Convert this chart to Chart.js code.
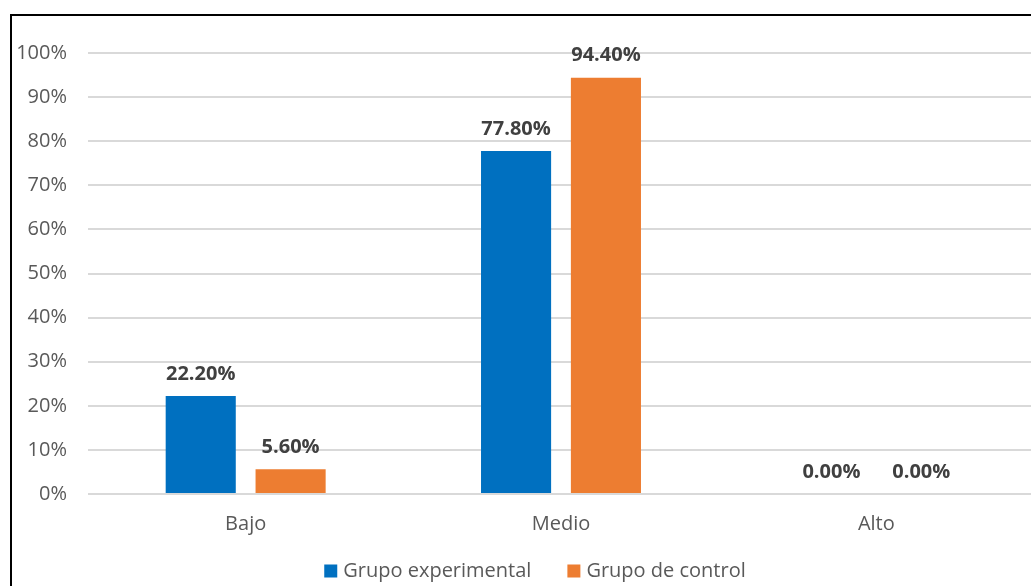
<!DOCTYPE html>
<html>
<head>
<meta charset="utf-8">
<script src="https://cdn.jsdelivr.net/npm/chart.js@4"></script>
<style>
  html, body { margin: 0; padding: 0; background: #fff; overflow: hidden; }
  #frame { position: absolute; left: 10px; top: 14px; width: 1100px; height: 700px; border: 2px solid #000; }
  #wrap { position: absolute; left: 0; top: 0; width: 1034px; height: 586px; }
</style>
</head>
<body>
<div id="frame"></div>
<div id="wrap"><canvas id="myChart"></canvas></div>
<script>
// categories and values (percent)
var categories = ['Bajo', 'Medio', 'Alto'];
var grupoExperimental = [22.2, 77.8, 0.0];
var grupoControl = [5.6, 94.4, 0.0];
var seriesNames = ['Grupo experimental', 'Grupo de control'];

var fontFamily = '"Open Sans", sans-serif';

// draws the value labels above each bar
var valueLabels = {
  id: 'valueLabels',
  afterDatasetsDraw: function (chart) {
    var ctx = chart.ctx;
    ctx.save();
    ctx.font = 'bold 20px ' + fontFamily;
    ctx.fillStyle = '#404040';
    ctx.textAlign = 'center';
    ctx.textBaseline = 'middle';
    chart.data.datasets.forEach(function (ds, i) {
      chart.getDatasetMeta(i).data.forEach(function (bar, j) {
        ctx.fillText(ds.data[j].toFixed(2) + '%', bar.x, bar.y - 22);
      });
    });
    ctx.restore();
  }
};

// simple legend at the bottom (Excel style: small square, narrow gap)
var bottomLegend = {
  id: 'bottomLegend',
  afterDraw: function (chart) {
    var ctx = chart.ctx;
    var box = 13, gap = 6, itemGap = 36, y = 571;
    ctx.save();
    ctx.font = '20px ' + fontFamily;
    ctx.textBaseline = 'middle';
    var items = chart.data.datasets.map(function (ds) {
      return { text: ds.label, color: ds.backgroundColor, w: ctx.measureText(ds.label).width };
    });
    var total = 0;
    items.forEach(function (it, i) { total += box + gap + it.w + (i ? itemGap : 0); });
    var x = 535 - total / 2;
    items.forEach(function (it) {
      ctx.fillStyle = it.color;
      ctx.fillRect(x, y - box / 2, box, box);
      ctx.fillStyle = '#595959';
      ctx.textAlign = 'left';
      ctx.fillText(it.text, x + box + gap, y);
      x += box + gap + it.w + itemGap;
    });
    ctx.restore();
  }
};

var myChart = new Chart(document.getElementById('myChart'), {
  type: 'bar',
  data: {
    labels: categories,
    datasets: [
      {
        label: seriesNames[0],
        data: grupoExperimental,
        backgroundColor: '#0070C0',
        categoryPercentage: 0.57,
        barPercentage: 0.78
      },
      {
        label: seriesNames[1],
        data: grupoControl,
        backgroundColor: '#ED7D31',
        categoryPercentage: 0.57,
        barPercentage: 0.78
      }
    ]
  },
  options: {
    responsive: true,
    maintainAspectRatio: false,
    animation: false,
    layout: { padding: { top: 53, left: 0, right: 0, bottom: 30 } },
    scales: {
      x: {
        afterFit: function (s) { s.height = 62; },
        grid: { display: false },
        border: { display: false },
        ticks: { color: '#595959', font: { family: fontFamily, size: 20 }, padding: 10 }
      },
      y: {
        min: 0,
        max: 100,
        afterFit: function (s) { s.width = 88; },
        grid: { color: '#d9d9d9', lineWidth: 2, drawTicks: false },
        border: { display: false },
        ticks: {
          stepSize: 10,
          padding: 21,
          color: '#595959',
          font: { family: fontFamily, size: 20 },
          callback: function (v) { return v + '%'; }
        }
      }
    },
    plugins: {
      tooltip: { enabled: false },
      legend: { display: false }
    }
  },
  plugins: [valueLabels, bottomLegend]
});
</script>
</body>
</html>
